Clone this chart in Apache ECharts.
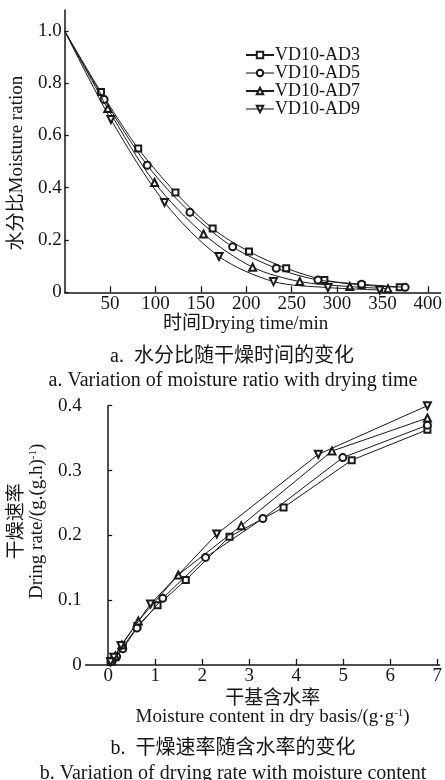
<!DOCTYPE html>
<html>
<head>
<meta charset="utf-8">
<script src="https://cdn.jsdelivr.net/npm/echarts@6/dist/echarts.min.js"></script>
<style>
html,body{margin:0;padding:0;background:#fff;}
#c{width:445px;height:780px;}
</style>
</head>
<body>
<div id="c"></div>
<script>
// ---- Chart a: moisture ratio vs drying time ----
const seriesNames = ['VD10-AD3', 'VD10-AD5', 'VD10-AD7', 'VD10-AD9'];
const timeAD3 = [0, 40, 81, 122, 163, 203, 244, 286, 327, 369];
const mrAD3   = [1.0, 0.766, 0.550, 0.382, 0.244, 0.156, 0.092, 0.047, 0.028, 0.019];
const timeAD5 = [0, 43.5, 91, 138, 185, 233, 279, 327, 375];
const mrAD5   = [1.0, 0.738, 0.486, 0.306, 0.174, 0.092, 0.047, 0.031, 0.019];
const timeAD7 = [0, 47.5, 99, 153, 207, 259, 314, 356];
const mrAD7   = [1.0, 0.703, 0.420, 0.223, 0.096, 0.041, 0.022, 0.014];
const timeAD9 = [0, 51, 110, 170, 230, 290, 347];
const mrAD9   = [1.0, 0.661, 0.344, 0.137, 0.041, 0.018, 0.009];
const timeTicks = [50, 100, 150, 200, 250, 300, 350, 400];
const mrTicks = [0, 0.2, 0.4, 0.6, 0.8, 1.0];

// ---- Chart b: drying rate vs moisture content ----
const mcAD3   = [6.79, 5.18, 3.73, 2.58, 1.65, 1.05, 0.62, 0.31, 0.15, 0.05];
const rateAD3 = [0.363, 0.316, 0.243, 0.198, 0.131, 0.092, 0.060, 0.027, 0.012, 0.006];
const mcAD5   = [6.79, 4.99, 3.29, 2.07, 1.16, 0.61, 0.31, 0.18, 0.09];
const rateAD5 = [0.370, 0.320, 0.226, 0.166, 0.103, 0.057, 0.025, 0.013, 0.007];
const mcAD7   = [6.79, 4.76, 2.83, 1.49, 0.64, 0.29, 0.15, 0.07];
const rateAD7 = [0.381, 0.330, 0.215, 0.139, 0.068, 0.031, 0.014, 0.006];
const mcAD9   = [6.79, 4.47, 2.31, 0.90, 0.27, 0.12, 0.05];
const rateAD9 = [0.400, 0.325, 0.202, 0.094, 0.030, 0.012, 0.005];
const mcTicks = [0, 1, 2, 3, 4, 5, 6, 7];
const rateTicks = [0, 0.1, 0.2, 0.3, 0.4];

const FONT = '"Liberation Serif", "Noto Sans CJK SC", serif';
const INK = '#161616';
const fmt = v => (v === 0 ? '0' : v.toFixed(1));

// top chart: the common starting point (t=0, MR=1) is drawn without a marker
const zipTop = (xs, ys) => xs.map((x, i) => (i === 0 ? { value: [x, ys[i]], symbol: 'none' } : [x, ys[i]]));
const zip = (xs, ys) => xs.map((x, i) => [x, ys[i]]);

const symbols = ['emptyRect', 'emptyCircle', 'emptyTriangle', 'emptyTriangle'];
const rotations = [0, 0, 0, 180];
const sizes = [6, 7, 7, 7];

const topData = [zipTop(timeAD3, mrAD3), zipTop(timeAD5, mrAD5), zipTop(timeAD7, mrAD7), zipTop(timeAD9, mrAD9)];
const botData = [zip(mcAD3, rateAD3), zip(mcAD5, rateAD5), zip(mcAD7, rateAD7), zip(mcAD9, rateAD9)];

function mkSeries(data, idx, smooth) {
  return data.map((d, i) => ({
    name: seriesNames[i],
    type: 'line',
    xAxisIndex: idx, yAxisIndex: idx,
    data: d,
    smooth: smooth,
    symbol: symbols[i],
    symbolRotate: rotations[i],
    symbolSize: sizes[i],
    showAllSymbol: true,
    lineStyle: { color: '#1a1a1a', width: 1 },
    itemStyle: { color: '#1a1a1a', borderColor: '#1a1a1a', borderWidth: 1 },
    emphasis: { disabled: true },
    animation: false,
    z: 3 + i
  }));
}

const axisCommon = {
  axisLine: { lineStyle: { color: INK, width: 1.5 } },
  axisTick: { inside: true, length: 6, lineStyle: { color: INK, width: 1.3 } },
  splitLine: { show: false },
  axisLabel: { color: INK, fontFamily: FONT, fontSize: 19 },
  nameTextStyle: { color: INK, fontFamily: FONT, fontSize: 19 }
};
const capStyle = { fontFamily: FONT, fontSize: 20, fontWeight: 'normal', color: INK };

const chart = echarts.init(document.getElementById('c'), null, { renderer: 'canvas' });
chart.setOption({
  backgroundColor: '#fff',
  animation: false,
  title: [
    { text: 'a.  水分比随干燥时间的变化', left: 227, top: 342, textAlign: 'center', textStyle: capStyle },
    { text: 'a. Variation of moisture ratio with drying time', left: 228, top: 366, textAlign: 'center', textStyle: capStyle },
    { text: 'b.  干燥速率随含水率的变化', left: 228, top: 734, textAlign: 'center', textStyle: capStyle },
    { text: 'b. Variation of drying rate with moisture content', left: 228, top: 759, textAlign: 'center', textStyle: capStyle }
  ],
  legend: {
    data: [
      { name: seriesNames[0] },
      { name: seriesNames[1], lineStyle: { color: '#888' } },
      { name: seriesNames[2] },
      { name: seriesNames[3], lineStyle: { color: '#888' } }
    ],
    orient: 'vertical',
    left: 245, top: 46,
    padding: 0,
    itemGap: 0,
    itemWidth: 28, itemHeight: 8,
    textStyle: { fontFamily: FONT, fontSize: 18, lineHeight: 16, color: INK, padding: [0, 0, 0, -4] },
    selectedMode: false
  },
  grid: [
    { left: 61, top: 10, width: 382, height: 282.3 },
    { left: 80, top: 405.7, width: 362, height: 259.3 }
  ],
  xAxis: [
    Object.assign({}, axisCommon, {
      gridIndex: 0, type: 'value', min: 0, max: 414, interval: 50,
      name: '时间Drying time/min', nameLocation: 'middle', nameGap: 20,
      nameTextStyle: Object.assign({}, axisCommon.nameTextStyle, { padding: [0, 14, 0, 0] }),
      axisTick: Object.assign({}, axisCommon.axisTick, { customValues: timeTicks }),
      axisLabel: Object.assign({}, axisCommon.axisLabel, { customValues: timeTicks, margin: 2 })
    }),
    Object.assign({}, axisCommon, {
      gridIndex: 1, type: 'value', min: -0.48, max: 7.05,
      name: '{a|干基含水率}\n{a|Moisture content in dry basis/(g·g}{s|-1}{a|)}',
      nameLocation: 'middle', nameGap: 25,
      nameTextStyle: Object.assign({}, axisCommon.nameTextStyle, {
        padding: [0, 0, 0, 20],
        rich: {
          a: { fontFamily: FONT, fontSize: 19, lineHeight: 18, color: INK },
          s: { fontFamily: FONT, fontSize: 11, lineHeight: 18, color: INK, padding: [0, 0, 8, 0] }
        }
      }),
      axisTick: Object.assign({}, axisCommon.axisTick, { customValues: mcTicks }),
      axisLabel: Object.assign({}, axisCommon.axisLabel, { customValues: mcTicks, margin: 2 })
    })
  ],
  yAxis: [
    Object.assign({}, axisCommon, {
      gridIndex: 0, type: 'value', min: 0, max: 1.08, interval: 0.2,
      name: '水分比Moisture ration', nameLocation: 'middle', nameGap: 27, nameRotate: 90,
      nameTextStyle: Object.assign({}, axisCommon.nameTextStyle, { padding: [0, 24, 0, 0] }),
      axisTick: Object.assign({}, axisCommon.axisTick, { length: 4, customValues: mrTicks }),
      axisLabel: Object.assign({}, axisCommon.axisLabel, { customValues: mrTicks, margin: 3, formatter: fmt })
    }),
    Object.assign({}, axisCommon, {
      gridIndex: 1, type: 'value', min: 0, max: 0.4, interval: 0.1,
      name: '{a|干燥速率}\n{a|Dring rate/(g.(g.h)}{s|-1}{a|)}',
      nameLocation: 'middle', nameGap: 23, nameRotate: 90,
      nameTextStyle: Object.assign({}, axisCommon.nameTextStyle, {
        padding: [0, 0, 0, 28],
        rich: {
          a: { fontFamily: FONT, fontSize: 19, lineHeight: 20, color: INK },
          s: { fontFamily: FONT, fontSize: 11, lineHeight: 20, color: INK, padding: [0, 0, 8, 0] }
        }
      }),
      axisTick: Object.assign({}, axisCommon.axisTick, { length: 4, customValues: rateTicks }),
      axisLabel: Object.assign({}, axisCommon.axisLabel, { customValues: rateTicks, margin: 4, formatter: fmt })
    })
  ],
  series: mkSeries(topData, 0, 0.3).concat(mkSeries(botData, 1, false))
});
</script>
</body>
</html>
